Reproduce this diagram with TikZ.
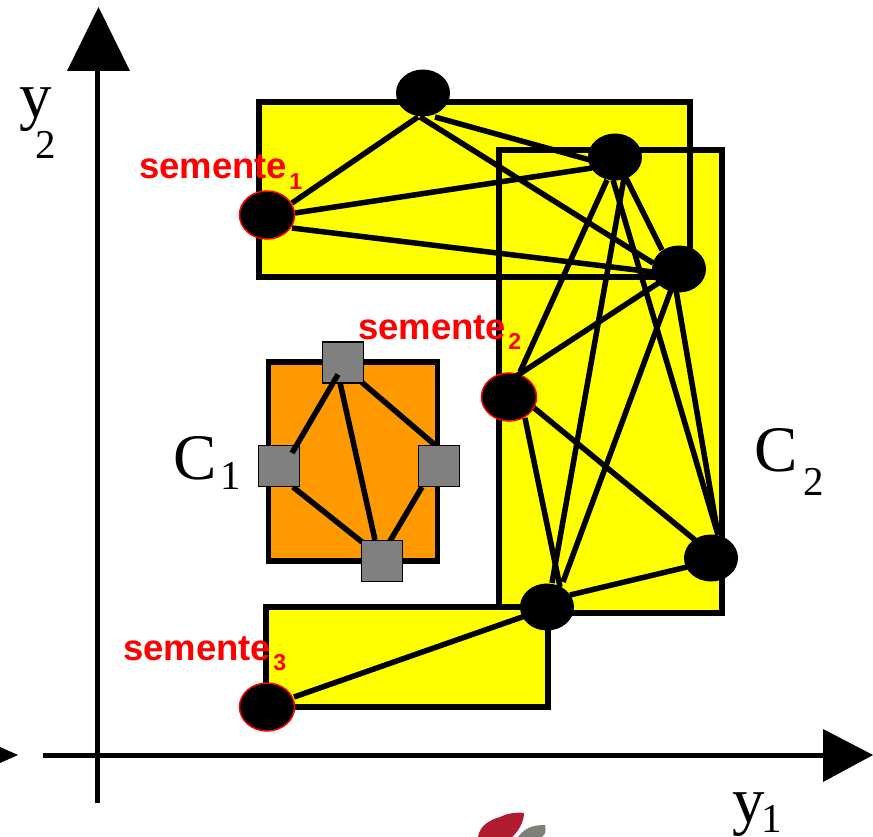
\documentclass[tikz,border=0pt]{standalone}
\usepackage{fontspec}
\setmainfont{Liberation Serif}
\newfontfamily\seedfont{Liberation Sans}[BoldFont={Liberation Sans Bold}]
% letter, subscript, drop of the subscript, kern before it
\newcommand{\bigtxt}[4]{{\fontsize{65}{65}\selectfont #1\kern#4pt\raisebox{-#3pt}{\fontsize{41}{41}\selectfont #2}}}
\newcommand{\seedtxt}[1]{{\seedfont\bfseries\fontsize{36.5}{36.5}\selectfont semente\kern2pt\raisebox{-10.5pt}{\fontsize{23}{23}\selectfont #1}}}
\usetikzlibrary{shapes.geometric,calc}
\definecolor{gray50}{HTML}{808080}
\definecolor{clusterY}{HTML}{FFFF00}
\definecolor{clusterO}{HTML}{FF9900}
\definecolor{logoR}{HTML}{B01C2E}
\definecolor{logoG}{HTML}{7F7F7A}
\pgfdeclarelayer{pts}
\pgfdeclarelayer{over}
\pgfsetlayers{main,pts,over}
\tikzset{
  x=1pt,y=-1pt,
  region/.style={line width=5.5pt,draw=black,line join=miter},
  edge/.style={line width=5.5pt,draw=black},
  point/.style={ellipse,fill=black,minimum width=54pt,minimum height=47pt,inner sep=0pt},
  seedpt/.style={point,draw=red,line width=1.5pt,minimum width=55pt,minimum height=48pt},
  sq/.style={rectangle,fill=gray50,draw=black,line width=1.5pt,minimum width=41pt,minimum height=41pt,inner sep=0pt},
  seedlabel/.style={text=red,inner sep=0pt,anchor=base west},
  biglabel/.style={inner sep=0pt,anchor=base west},
  axis/.style={line width=5pt,draw=black},
  tipshape/.style={fill=black},
}
\begin{document}
\begin{tikzpicture}
\useasboundingbox (0,0) rectangle (873,837);
\fill[white] (0,0) rectangle (873,837);
% logo fragment
\fill[logoG] (518,837) .. controls (525,828) and (532,825) .. (545,825) .. controls (546,830) and (546,834) .. (542,837) -- cycle;
\fill[logoR] (478,837) .. controls (480,825) and (490,820) .. (500,817) .. controls (508,813) and (518,812) .. (524,813) .. controls (524,822) and (518,832) .. (512,837) -- cycle;
% axes
\coordinate (xs) at (43,755); \coordinate (xe) at (830,755);
\coordinate (ys) at (97,803); \coordinate (ye) at (97,65);
\draw[axis] (xs) -- (xe);
\draw[axis] (ys) -- (ye);
\fill[tipshape] (98.5,7) -- (130,71) -- (67,71) -- cycle;
\fill[tipshape] (873,755) -- (823,729) -- (823,782) -- cycle;
\fill[tipshape] (18,755) -- (0,747) -- (0,763) -- cycle;
% clusters
\fill[clusterY] (259,102) rectangle (690,277);
\fill[clusterY] (499,150) rectangle (722,613);
\draw[region] (259,102) rectangle (690,277);
\draw[region] (499,150) rectangle (722,613);
\draw[region,fill=clusterY] (266,607) rectangle (548,707);
\draw[region,fill=clusterO] (268.5,362) rectangle (437.5,561);
\begin{pgfonlayer}{pts}
\node[point] (a) at (423,93) {};
\node[point] (b) at (615,157) {};
\node[point] (c) at (679,269) {};
\node[point] (d) at (711,558) {};
\node[point] (e) at (547,607) {};
\node[seedpt] (s1) at (267,215) {};
\node[seedpt] (s2) at (509,397) {};
\node[seedpt] (s3) at (267,707) {};
\node[sq] (qt) at (343,362.5) {};
\node[sq] (ql) at (279,466) {};
\node[sq] (qr) at (439,466) {};
\node[sq] (qb) at (382,561) {};
\end{pgfonlayer}
% C2 connectors
\draw[edge] ($(a)+(-5,24)$) -- ($(s1)+(25,-12)$);
\draw[edge] ($(a)+(12,24)$) -- ($(b)+(-25,3)$);
\draw[edge] ($(a)+(-3,24)$) -- ($(c)+(-26,-6)$);
\draw[edge] ($(s1)+(28,-2)$) -- ($(b)+(-23,11)$);
\draw[edge] ($(s1)+(25,13)$) -- ($(c)+(-26,3)$);
\draw[edge] ($(b)+(9,21)$) -- ($(e)+(5,-24)$);
\draw[edge] ($(b)+(-2,23)$) -- ($(d)+(7,-23)$);
\draw[edge] ($(b)+(11,21)$) -- ($(c)+(-17,-19)$);
\draw[edge] ($(c)+(-3,21)$) -- ($(d)+(7,-23)$);
\draw[edge] ($(s2)+(16,21)$) -- ($(e)+(13,-20)$);
\draw[edge] ($(s2)+(24,10)$) -- ($(d)+(-16,-18)$);
\draw[edge] ($(e)+(23,-12)$) -- ($(d)+(-24,9)$);
\draw[edge] ($(e)+(-22,9)$) -- ($(s3)+(27,-10)$);
% C1 connectors
\draw[edge] ($(qt)+(-3,20)$) -- ($(qb)+(-7,-21)$);
\draw[edge] ($(qt)+(19,20)$) -- ($(qr)+(-4,-21)$);
\draw[edge] ($(ql)+(14,21)$) -- ($(qb)+(-20,-19)$);
\draw[edge] ($(qr)+(-17,21)$) -- ($(qb)+(8,-20)$);
\begin{pgfonlayer}{over}
\draw[edge] ($(b)+(-8,23)$) -- ($(s2)+(11,-25)$);
\draw[edge] ($(c)+(-19,13)$) -- ($(s2)+(6,-20)$);
\draw[edge] ($(c)+(-8,21)$) -- ($(e)+(16,-25)$);
\draw[edge] ($(qt)+(-5,12)$) -- ($(ql)+(13,-13)$);
\node[seedlabel] (l1) at (139,179) {\seedtxt{1}};
\node[seedlabel] (l2) at (358,339) {\seedtxt{2}};
\node[seedlabel] (l3) at (123,660) {\seedtxt{3}};
\node[biglabel] (lc1) at (173,479) {\bigtxt{C}{1}{10}{4}};
\node[biglabel] (lc2) at (754,471) {\bigtxt{C}{2}{24}{5.6}};
\node[biglabel] (ly2) at (19.5,118) {\bigtxt{y}{2}{41}{-17}};
\node[biglabel] (ly1) at (732,822) {\bigtxt{y}{1}{10}{-3}};
\end{pgfonlayer}
\end{tikzpicture}
\end{document}
